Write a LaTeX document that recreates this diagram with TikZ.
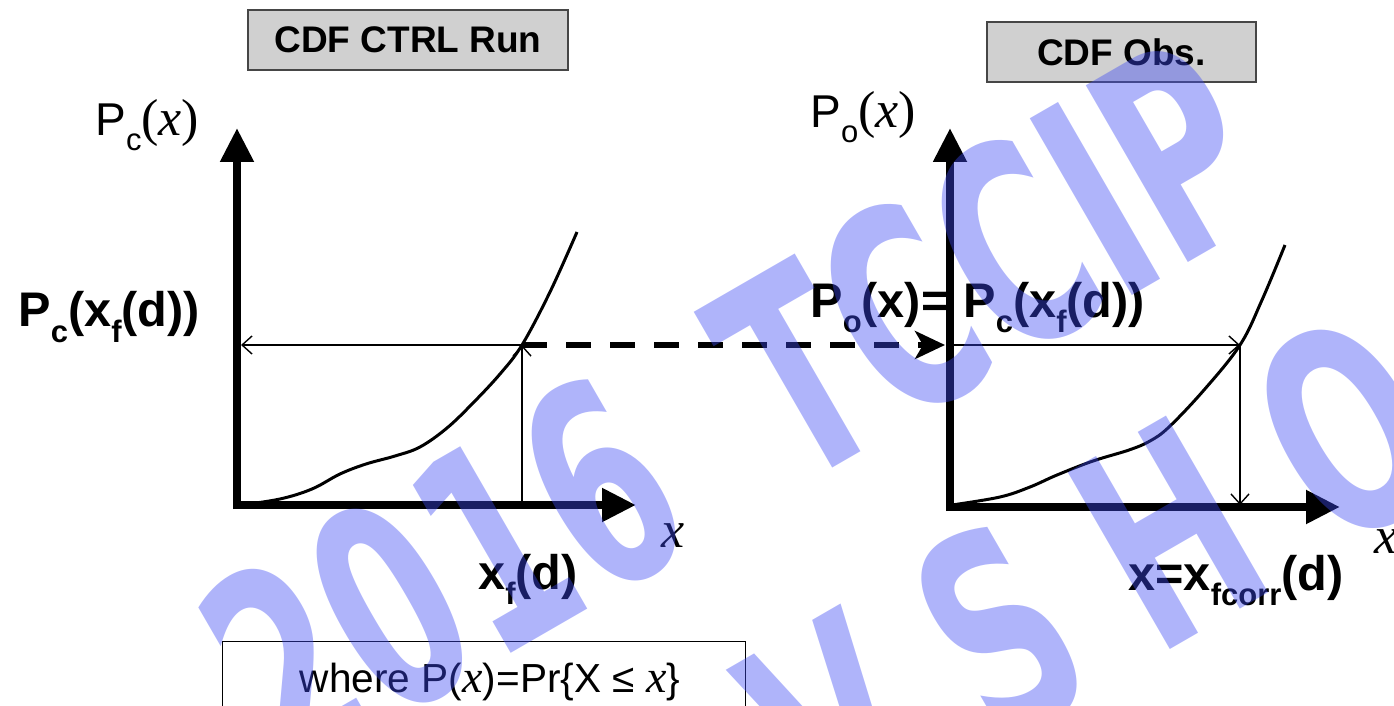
\documentclass[tikz,border=0pt]{standalone}
\usepackage{fontspec}
\setmainfont{Liberation Sans}
\newfontfamily\tms{Liberation Serif}
\newfontfamily\wmf{DejaVu Sans}
\usetikzlibrary{arrows.meta}
\definecolor{wmblue}{RGB}{61,74,244}
\definecolor{boxgrey}{RGB}{208,208,208}
\definecolor{boxedge}{RGB}{70,70,70}
\newcommand{\lsub}[1]{\raisebox{-0.32em}{\fontsize{15.5}{15.5}\selectfont #1}}
\newcommand{\ix}[1]{{\tms\itshape\fontsize{#1}{#1}\selectfont x}}
\newcommand{\tpar}[2]{{\tms\fontsize{#1}{#1}\selectfont #2}}
\begin{document}
\begin{tikzpicture}[x=0.5pt,y=-0.5pt,
  axis/.style={line width=4pt,-{Triangle[length=17pt,width=16pt]}},
  thinline/.style={line width=0.7pt,-{Straight Barb[length=5pt,width=9pt]}},
  cdf/.style={line width=1.5pt},
  dasharrow/.style={line width=3pt,dash pattern=on 12.5pt off 9.5pt,-{Stealth[length=15pt,width=14pt,inset=4pt]}},
  titlebox/.style={draw=boxedge,fill=boxgrey,line width=0.8pt,inner sep=0,font=\bfseries\fontsize{18.5}{22}\selectfont},
  lab/.style={inner sep=0,anchor=base west,font=\fontsize{23}{28}\selectfont},
  blab/.style={inner sep=0,anchor=base west,font=\bfseries\fontsize{24.3}{28}\selectfont},
  wm/.style={inner sep=0,anchor=base west,rotate=30,text=wmblue,text opacity=0.41,font=\wmf\bfseries\fontsize{140}{140}\selectfont}]
\useasboundingbox (0,0) rectangle (1394,706);
\clip (0,0) rectangle (1394,706);
% title boxes
\node[titlebox,minimum width=160pt,minimum height=30pt] (t1) at (408,40) {CDF CTRL Run};
\node[titlebox,minimum width=134.5pt,minimum height=30pt] (t2) at (1121.5,52) {CDF Obs.};
% ---- left plot
\coordinate (L0) at (237,509);
\coordinate (LY) at (237,128);
\coordinate (LX0) at (233,505);
\coordinate (LX) at (636,505);
\draw[axis] (L0) -- (LY);
\draw[axis] (LX0) -- (LX);
\coordinate (I1) at (522,345);
\coordinate (F1) at (522,502);
\coordinate (A1) at (241,345);
\draw[cdf] plot[smooth,tension=0.6] coordinates {(241,505) (280,499) (312,489) (340,474) (366,464) (395,456) (420,447) (447,428) (473,403) (500,374) (522,345) (550,292) (577,232)};
\draw[thinline] (F1) -- (I1);
\draw[thinline] (I1) -- (A1);
% ---- right plot
\coordinate (R0) at (950,511);
\coordinate (RY) at (950,128);
\coordinate (RX0) at (946,507);
\coordinate (RX) at (1340,507);
\draw[axis] (R0) -- (RY);
\draw[axis] (RX0) -- (RX);
\coordinate (I2) at (1240,345);
\coordinate (F2) at (1240,505);
\coordinate (B2) at (954,345);
\draw[cdf] plot[smooth,tension=0.6] coordinates {(952,505) (1000,497) (1030,487) (1057,475) (1093,461) (1129,450) (1150,441) (1169,427) (1204,390) (1240,345) (1262,300) (1285,245)};
\draw[thinline] (B2) -- (I2);
\draw[thinline] (I2) -- (F2);
% dashed transfer arrow
\coordinate (A2) at (945,345);
\draw[dasharrow] (I1) -- (A2);
% labels
\node[lab] (pcx) at (95,136) {P\lsub{c}\tpar{26}{(}\ix{26}\tpar{26}{)}};
\node[lab] (pox) at (810,128) {P\lsub{o}\tpar{26}{(}\ix{26}\tpar{26}{)}};
\node[blab] (pcxf) at (18,327) {P\lsub{c}(x\lsub{f}(d))};
\node[blab] (xfd) at (478,589) {x\lsub{f}(d)};
\node[blab] (poeq) at (810,317) {P\lsub{o}(x)=};
\node[blab] (pceq) at (963,317) {P\lsub{c}(x\lsub{f}(d))};
\node[blab] (xcorr) at (1128,590) {x=x\lsub{fcorr}(d)};
\node[inner sep=0,anchor=base west] (xl) at (661,547) {\ix{26}};
\node[inner sep=0,anchor=base west] (xr) at (1374,553) {\ix{26}};
% where box
\node[draw,line width=0.6pt,anchor=north west,minimum width=261.5pt,minimum height=45pt,inner sep=0] (wbox) at (222,641) {};
\node[inner sep=0,anchor=base,font=\fontsize{20.3}{24}\selectfont] (wtext) at (490,692) {where P(\ix{23})=Pr\{X ≤ \ix{23}\}};
% watermark
\node[wm] (wm1) at (284,785) {\scalebox{0.62}[1]{2016}};
\node[wm] (wm2) at (795,490) {\scalebox{0.62}[1]{TCCIP}};
\node[wm] (wm3) at (827,848) {\scalebox{0.62}[1]{V S H O P}};
\end{tikzpicture}
\end{document}
